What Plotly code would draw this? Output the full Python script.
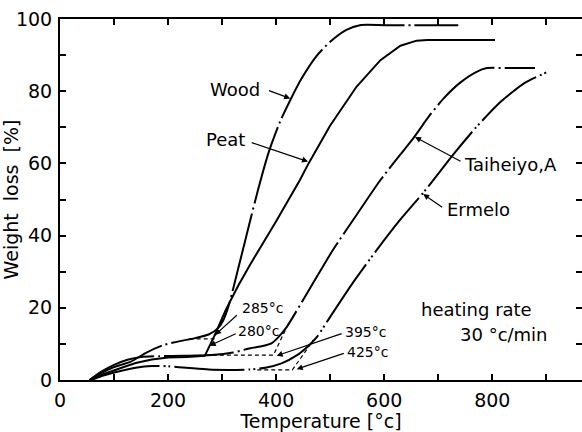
import plotly.graph_objects as go

# Thermogravimetric weight-loss curves, heating rate 30 °C/min
temp_wood = [55, 70, 100, 130, 160, 190, 220, 250, 275, 292, 302, 312, 330, 350, 367, 386, 407, 426, 447, 475, 500, 530, 555, 600, 650, 700, 737]
loss_wood = [0, 1.4, 3.6, 5.0, 7.6, 9.6, 10.7, 11.6, 12.6, 14.3, 16.5, 20.5, 31.0, 43.0, 53.0, 63.0, 71.5, 77.5, 83.5, 89.8, 93.7, 97.0, 98.3, 98.3, 98.3, 98.3, 98.3]

temp_peat = [55, 80, 110, 140, 170, 200, 235, 268, 285, 307, 330, 352, 400, 444, 460, 500, 549, 593, 630, 660, 680, 740, 805]
loss_peat = [0, 1.6, 3.2, 4.7, 5.7, 6.2, 6.4, 6.7, 12.0, 19.5, 26.2, 32.0, 44.0, 55.4, 60.0, 70.5, 81.3, 88.6, 92.6, 94.0, 94.2, 94.2, 94.2]

temp_taiheiyo = [55, 75, 100, 125, 150, 185, 230, 280, 320, 352, 375, 392, 405, 420, 463, 505, 550, 593, 630, 654, 685, 710, 740, 770, 790, 830, 879]
loss_taiheiyo = [0, 2.2, 4.2, 5.6, 6.4, 6.6, 6.7, 6.9, 7.6, 8.8, 9.4, 10.2, 12.0, 14.8, 25.5, 36.0, 46.0, 55.4, 62.5, 67.0, 73.5, 78.0, 82.3, 85.3, 86.4, 86.4, 86.4]

temp_ermelo = [58, 80, 110, 140, 170, 200, 240, 275, 310, 350, 380, 410, 438, 460, 476, 500, 540, 586, 630, 673, 728, 770, 815, 860, 903]
loss_ermelo = [0, 1.2, 2.4, 3.4, 3.9, 3.8, 3.3, 2.9, 2.8, 2.9, 3.4, 4.6, 6.8, 9.5, 12.0, 17.5, 26.5, 36.0, 44.5, 52.0, 62.5, 70.0, 77.0, 82.3, 85.4]

# Tangent constructions giving the onset temperatures
tangent_wood_t = [240, 285, 307]
tangent_wood_w = [11.4, 11.4, 19.4]
tangent_taiheiyo_t = [270, 395, 420]
tangent_taiheiyo_w = [6.9, 6.9, 14.8]
tangent_ermelo_t = [365, 430, 469]
tangent_ermelo_w = [2.8, 2.8, 11.1]

x_ticks = list(range(0, 1000, 100))
x_tick_text = ["0", "", "200", "", "400", "", "600", "", "800", ""]
y_ticks = list(range(0, 101, 10))
y_tick_text = ["0", "", "20", "", "40", "", "60", "", "80", "", "100"]

FONT = "DejaVu Sans"
BLACK = "black"

fig = go.Figure()

curves = [
    (temp_wood, loss_wood, "80px,4px,2px,4px", "spline"),
    (temp_peat, loss_peat, "solid", "linear"),
    (temp_taiheiyo, loss_taiheiyo, "70px,4px,2px,4px", "spline"),
    (temp_ermelo, loss_ermelo, "70px,4px,2px,3px,2px,4px", "spline"),
]
for t, w, dash, shape in curves:
    fig.add_trace(go.Scatter(
        x=t, y=w, mode="lines",
        line=dict(color=BLACK, width=2, dash=dash, shape=shape, smoothing=0.6),
        hoverinfo="skip", showlegend=False,
    ))

for t, w in [(tangent_wood_t, tangent_wood_w),
             (tangent_taiheiyo_t, tangent_taiheiyo_w),
             (tangent_ermelo_t, tangent_ermelo_w)]:
    fig.add_trace(go.Scatter(
        x=t, y=w, mode="lines",
        line=dict(color=BLACK, width=1.2, dash="4px,3px"),
        hoverinfo="skip", showlegend=False,
    ))

# carrier for the right-hand tick column
fig.add_trace(go.Scatter(x=[None], y=[None], yaxis="y2", showlegend=False, hoverinfo="skip"))

annotations = []


def label(text, x, y, size=18, anchor="left"):
    annotations.append(dict(
        x=x, y=y, xref="x", yref="y", text=text, showarrow=False,
        xanchor=anchor, yanchor="middle",
        font=dict(family=FONT, size=size, color=BLACK),
    ))


def arrow(x, y, ax, ay):
    annotations.append(dict(
        x=x, y=y, ax=ax, ay=ay, xref="x", yref="y", axref="x", ayref="y",
        text="", showarrow=True, arrowhead=2, arrowsize=1, arrowwidth=1.2,
        arrowcolor=BLACK,
    ))


label("Wood", 374, 80.6, anchor="right")
arrow(426, 78.0, 384, 80.3)
label("Peat", 346, 66.5, anchor="right")
arrow(459, 60.5, 352, 65.9)
label("Taiheiyo,A", 744, 59.6)
arrow(657, 67.3, 744, 60.4)
label("Ermelo", 713, 47.1)
arrow(672, 51.5, 710, 47.6)
label("heating rate", 665, 19.4)
label("30 °c/min", 737, 12.5)

label("285°c", 333, 19.9, size=14)
arrow(287, 12.5, 330, 18.3)
label("280°c", 326, 13.6, size=14)
arrow(277, 9.5, 328, 13.0)
label("395°c", 524, 13.3, size=14)
arrow(401, 6.7, 524, 13.0)
label("425°c", 528, 7.8, size=14)
arrow(438, 3.0, 528, 7.5)

fig.update_layout(
    width=582, height=432,
    margin=dict(l=60, r=0, t=19, b=52),
    paper_bgcolor="white", plot_bgcolor="white",
    font=dict(family=FONT, size=19, color=BLACK),
    showlegend=False,
    annotations=annotations,
    xaxis=dict(
        range=[0, 966], showline=True, linewidth=2, linecolor=BLACK,
        mirror="ticks", ticks="inside", ticklen=6, tickwidth=1.5, tickcolor=BLACK,
        tickvals=x_ticks, ticktext=x_tick_text, ticklabelstandoff=2,
        showgrid=False, zeroline=False,
        title=dict(text="Temperature [°c]", standoff=7, font=dict(size=19)),
    ),
    yaxis=dict(
        range=[0, 100], showline=True, linewidth=2, linecolor=BLACK,
        ticks="inside", ticklen=6, tickwidth=1.5, tickcolor=BLACK,
        tickvals=y_ticks, ticktext=y_tick_text, ticklabelstandoff=2,
        showgrid=False, zeroline=False,
        title=dict(text="Weight\u00a0 loss\u00a0 [%]", standoff=3, font=dict(size=19)),
    ),
    yaxis2=dict(
        range=[0, 100], overlaying="y", side="right", anchor="x",
        ticks="inside", ticklen=6, tickwidth=1.5, tickcolor=BLACK,
        tickvals=y_ticks, showticklabels=False,
        showline=False, showgrid=False, zeroline=False,
    ),
)

fig.write_html("out.html")
